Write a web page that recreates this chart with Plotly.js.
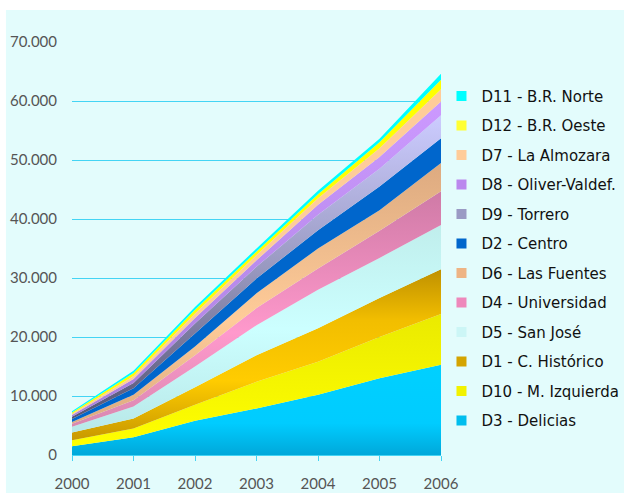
<!DOCTYPE html>
<html>
<head>
<meta charset="utf-8">
<script src="https://cdn.plot.ly/plotly-3.0.1.min.js"></script>
<style>html,body{margin:0;padding:0;background:#fff;}#chart{width:624px;height:493px;}</style>
</head>
<body>
<div id="chart"></div>
<script>
const years = [2000, 2001, 2002, 2003, 2004, 2005, 2006];
const yTickVals = [0, 10000, 20000, 30000, 40000, 50000, 60000, 70000];
const yTickText = ["0", "10.000", "20.000", "30.000", "40.000", "50.000", "60.000", "70.000"];

// stacking order: bottom to top
const seriesNames = ["D3 - Delicias", "D10 - M. Izquierda", "D1 - C. Histórico", "D5 - San José",
  "D4 - Universidad", "D6 - Las Fuentes", "D2 - Centro", "D9 - Torrero",
  "D8 - Oliver-Valdef.", "D7 - La Almozara", "D12 - B.R. Oeste", "D11 - B.R. Norte"];

const d3Delicias     = [1500, 3000, 5800, 7900, 10200, 13000, 15300];
const d10Izquierda   = [1000, 1500, 2700, 4500, 5600, 7000, 8600];
const d1Historico    = [1300, 1700, 3000, 4500, 5700, 6600, 7600];
const d5SanJose      = [1000, 2000, 3500, 5100, 6500, 6800, 7500];
const d4Universidad  = [500, 1100, 1900, 2900, 3600, 4600, 5700];
const d6LasFuentes   = [300, 900, 1500, 2500, 3400, 3500, 4800];
const d2Centro       = [500, 1100, 2200, 2500, 3100, 4000, 4200];
const d9Torrero      = [400, 900, 1700, 2000, 2600, 3000, 3900];
const d8Oliver       = [300, 700, 900, 1100, 1700, 2000, 2300];
const d7Almozara     = [200, 500, 800, 900, 1100, 1500, 2100];
const d12Oeste       = [200, 500, 600, 600, 700, 1000, 1600];
const d11Norte       = [200, 400, 500, 500, 600, 600, 1000];

const seriesValues = [d3Delicias, d10Izquierda, d1Historico, d5SanJose, d4Universidad, d6LasFuentes,
  d2Centro, d9Torrero, d8Oliver, d7Almozara, d12Oeste, d11Norte];

const fillScales = [
  [[0, '#00A8DA'], [0.35, '#00CCFF'], [1, '#00D0FF']],
  [[0, '#FFFF00'], [1, '#EAEA00']],
  [[0, '#C89800'], [0.35, '#FFCC00'], [0.7, '#F2BE00'], [1, '#BF9000']],
  [[0, '#B8E8E8'], [0.5, '#CCFFFF'], [1, '#C0EEEC']],
  [[0, '#D888B0'], [0.4, '#FF99CC'], [1, '#CF7AA6']],
  [[0, '#DDAA80'], [0.4, '#FFCC99'], [1, '#DDAA80']],
  [[0, '#0066CC'], [1, '#0066CC']],
  [[0, '#555577'], [0.5, '#9999C0'], [1, '#CCCCFF']],
  [[0, '#AA80DD'], [1, '#CC99FF']],
  [[0, '#FFCC99'], [1, '#FFCC99']],
  [[0, '#FFFF00'], [1, '#FFFF00']],
  [[0, '#00FFFF'], [1, '#00FFFF']]
];
const legendColors = ['#00BEEE', '#F2F200', '#D4A400', '#CCF6F6', '#EE88BB', '#EEB484',
  '#0066CC', '#9A9AC4', '#BB88EE', '#FFCC99', '#FFFF33', '#00FFFF'];

const traces = [];
seriesNames.forEach((name, i) => {
  traces.push({
    type: 'scatter', x: years, y: seriesValues[i], name: name,
    stackgroup: 'one', mode: 'none', legendgroup: 'g' + i, showlegend: false,
    fillcolor: legendColors[i],
    fillgradient: {type: 'vertical', colorscale: fillScales[i]},
    hoverinfo: 'x+y+name'
  });
});
// legend entries, top item = top of stack
for (let i = seriesNames.length - 1; i >= 0; i--) {
  traces.push({
    type: 'scatter', x: [null], y: [null], name: seriesNames[i], mode: 'markers',
    legendgroup: 'g' + i, showlegend: true,
    marker: {symbol: 'square', size: 10, color: legendColors[i]}
  });
}

const layout = {
  width: 624, height: 493,
  margin: {l: 72, r: 183, t: 42, b: 38, pad: 0},
  paper_bgcolor: '#E3FCFC',
  plot_bgcolor: 'rgba(0,0,0,0)',
  showlegend: true,
  font: {family: 'Lato, "DejaVu Sans", sans-serif', size: 15, color: '#555555'},
  xaxis: {
    range: [2000, 2006], tickvals: years, ticktext: years.map(String),
    showgrid: false, zeroline: false, showline: true, linecolor: '#44D4F4', linewidth: 1,
    ticks: 'outside', ticklen: 5, tickcolor: '#44D4F4', ticklabelstandoff: 10,
    tickfont: {size: 15, color: '#555555'}
  },
  yaxis: {
    range: [0, 70000], tickvals: yTickVals, ticktext: yTickText,
    showgrid: true, gridcolor: '#44D4F4', gridwidth: 1, zeroline: false, showline: false,
    ticks: '', ticklabelstandoff: 14, tickfont: {size: 15, color: '#555555'}
  },
  legend: {
    xref: 'container', yref: 'container',
    x: 0.7075, y: 0.838, xanchor: 'left', yanchor: 'top',
    maxheight: 1,
    bgcolor: 'rgba(0,0,0,0)', traceorder: 'grouped', tracegroupgap: 7,
    font: {family: '"DejaVu Sans", sans-serif', size: 15, color: '#111111'},
    itemwidth: 30
  },
  shapes: [
    {type: 'rect', xref: 'paper', yref: 'paper', x0: -0.3, x1: 1.6, y0: 1.0775, y1: 1.2, fillcolor: '#FFFFFF', line: {width: 0}, layer: 'below'},
    {type: 'rect', xref: 'paper', yref: 'paper', x0: -0.3, x1: -0.179, y0: -0.2, y1: 1.2, fillcolor: '#FFFFFF', line: {width: 0}, layer: 'below'}
  ]
};

Plotly.newPlot('chart', traces, layout, {displayModeBar: false, staticPlot: true});
</script>
</body>
</html>
